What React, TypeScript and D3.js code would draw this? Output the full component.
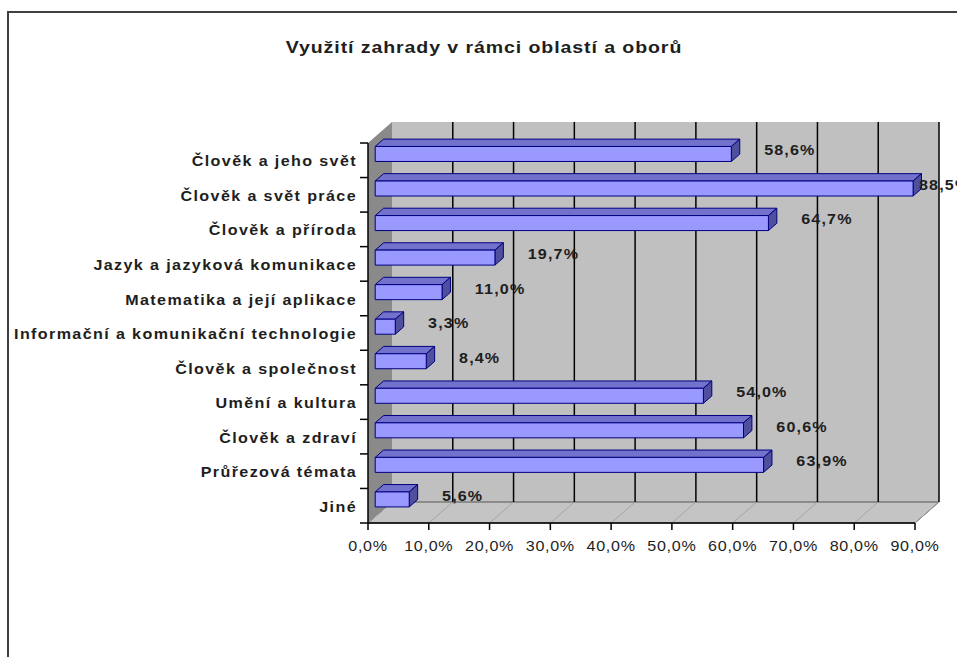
import * as d3 from 'd3';

const categories = [
  'Člověk a jeho svět',
  'Člověk a svět práce',
  'Člověk a příroda',
  'Jazyk a jazyková komunikace',
  'Matematika a její aplikace',
  'Informační a komunikační technologie',
  'Člověk a společnost',
  'Umění a kultura',
  'Člověk a zdraví',
  'Průřezová témata',
  'Jiné',
];
const values = [58.6, 88.5, 64.7, 19.7, 11.0, 3.3, 8.4, 54.0, 60.6, 63.9, 5.6];
const ticks = [0, 10, 20, 30, 40, 50, 60, 70, 80, 90];
const title = 'Využití zahrady v rámci oblastí a oborů';

const W = 957;
const H = 657;
// depth of the 3D box
const DX = 24;
const DY = -21;
const SX = 1.15; // the old chart's text is a bit wide
const FONT = 'Arial, "Liberation Sans", sans-serif';

const fmt = (v: number) => v.toFixed(1).replace('.', ',') + '%';

type LabelProps = {
  x: number;
  y: number;
  anchor?: string;
  size: number;
  bold?: boolean;
  ls: number;
  children: string;
};

const Label = ({ x, y, anchor = 'start', size, bold, ls, children }: LabelProps) => (
  <text
    transform={`translate(${x},${y}) scale(${SX},1)`}
    textAnchor={anchor}
    dominantBaseline="central"
    fontSize={size}
    fontWeight={bold ? 'bold' : 'normal'}
    letterSpacing={ls}
    fill="#1e1e1e"
  >
    {children}
  </text>
);

const App = () => {
  const x = d3.scaleLinear().domain([0, 90]).range([368, 915]);
  const y = d3.scaleBand<string>().domain(categories).range([143, 523]);
  const [x0, x1] = x.range();
  const [yTop, yBot] = y.range();

  // bar sits partway into the depth
  const bfx = DX * 0.3;
  const bfy = DY * 0.3;
  const bdx = DX * 0.35;
  const bdy = DY * 0.35;
  const barH = 15;

  const pts = (p: number[][]) => p.map(d => d.join(',')).join(' ');
  const mid = (c: string) => (y(c) ?? 0) + y.bandwidth() / 2;

  return (
    <svg width={W} height={H} style={{ position: 'absolute', left: 0, top: 0 }} fontFamily={FONT}>
      <rect x={0} y={0} width={W} height={H} fill="#fff" />
      <rect x={8} y={12} width={W + 20} height={H + 20} fill="#fff" stroke="#404040" strokeWidth={2} />

      <Label x={484} y={47} anchor="middle" size={17} bold ls={0.8}>
        {title}
      </Label>

      {/* back wall */}
      <rect x={x0 + DX} y={yTop + DY} width={x1 - x0} height={yBot - yTop} fill="#c0c0c0" />
      {/* left side wall */}
      <polygon points={pts([[x0, yTop], [x0 + DX, yTop + DY], [x0 + DX, yBot + DY], [x0, yBot]])} fill="#8a8a8a" />
      {/* floor */}
      <polygon points={pts([[x0, yBot], [x1, yBot], [x1 + DX, yBot + DY], [x0 + DX, yBot + DY]])} fill="#c4c4c4" stroke="#555" strokeWidth={1} />
      {ticks.map(t => (
        <g key={t}>
          <line x1={x(t)} y1={yBot} x2={x(t) + DX} y2={yBot + DY} stroke="#a4a4a4" />
          <line x1={x(t) + DX} y1={yTop + DY} x2={x(t) + DX} y2={yBot + DY} stroke="#000" strokeWidth={t === 0 ? 0 : 1.5} />
        </g>
      ))}

      {/* bars */}
      {values.map((v, i) => {
        const c = categories[i];
        const cy = mid(c) + bfy;
        const fx0 = x(0) + bfx;
        const fx1 = x(v) + bfx;
        const t = cy - barH / 2;
        const b = cy + barH / 2;
        return (
          <g key={c} stroke="#000080" strokeWidth={1} strokeLinejoin="round">
            <polygon points={pts([[fx0, t], [fx1, t], [fx1 + bdx, t + bdy], [fx0 + bdx, t + bdy]])} fill="#7272cc" />
            <polygon points={pts([[fx1, t], [fx1 + bdx, t + bdy], [fx1 + bdx, b + bdy], [fx1, b]])} fill="#4f4f9e" />
            <rect x={fx0} y={t} width={fx1 - fx0} height={barH} fill="#9999ff" />
          </g>
        );
      })}

      {/* data labels */}
      {values.map((v, i) => (
        <Label key={categories[i]} x={Math.min(x(v) + 40, x1 + DX - 20)} y={mid(categories[i]) - 10} size={14} bold ls={1}>
          {fmt(v)}
        </Label>
      ))}

      {/* axes */}
      <line x1={x0} y1={yTop} x2={x0} y2={yBot} stroke="#000" strokeWidth={1.5} />
      <line x1={x0} y1={yBot} x2={x1} y2={yBot} stroke="#000" strokeWidth={1.5} />
      {categories.concat(['']).map((c, i) => {
        const yy = yTop + i * y.step();
        return <line key={i} x1={x0 - 8} y1={yy} x2={x0} y2={yy} stroke="#000" strokeWidth={1.5} />;
      })}
      {categories.map(c => (
        <Label key={c} x={357} y={mid(c) + 1} anchor="end" size={14} bold ls={1.2}>
          {c}
        </Label>
      ))}
      {ticks.map(t => (
        <g key={t}>
          <line x1={x(t)} y1={yBot} x2={x(t)} y2={yBot + 7} stroke="#000" strokeWidth={1.5} />
          <Label x={x(t)} y={546} anchor="middle" size={14} ls={0.6}>
            {fmt(t)}
          </Label>
        </g>
      ))}
    </svg>
  );
};

export default App;
